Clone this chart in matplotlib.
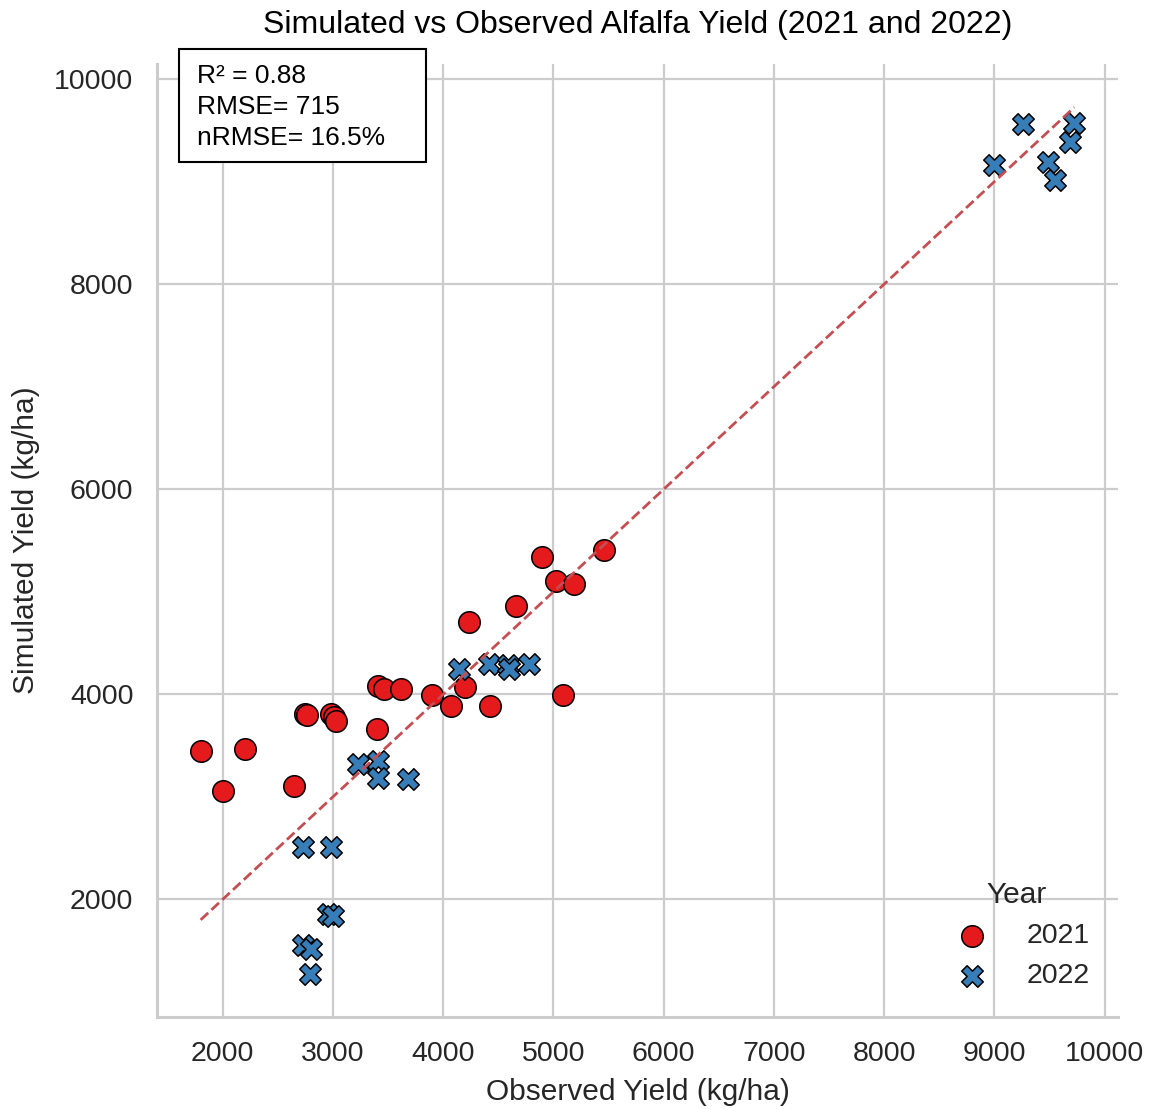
import matplotlib
matplotlib.use("Agg")
import matplotlib.pyplot as plt
from matplotlib.patches import Rectangle
from matplotlib.ticker import MultipleLocator
import seaborn as sns

# observed / simulated alfalfa yield, kg/ha
obs_2021 = [1800, 2203, 2000, 2651, 2745, 2765, 2981, 3011, 3026, 3398,
            3405, 3465, 3616, 3901, 4073, 4198, 4421, 5090, 4234, 4664,
            4894, 5027, 5190, 5457]
sim_2021 = [3448, 3464, 3056, 3105, 3807, 3800, 3807, 3774, 3742, 3663,
            4084, 4052, 4052, 3996, 3882, 4068, 3888, 3996, 4701, 4858,
            5341, 5106, 5080, 5406]

obs_2022 = [4146, 4418, 4585, 4600, 4781, 3223, 3411, 3411, 3677, 2724,
            2981, 2951, 2996, 2724, 2799, 2790, 8998, 9255, 9489, 9549,
            9685, 9725]
sim_2022 = [4248, 4297, 4290, 4248, 4297, 3323, 3350, 3180, 3170, 2507,
            2507, 1854, 1841, 1554, 1515, 1275, 9167, 9559, 9187, 9014,
            9383, 9569]

year_labels = ["2021", "2022"]
stats_lines = ["R\u00b2 = 0.88", "RMSE= 715", "nRMSE= 16.5%"]

sns.set_theme(style="whitegrid")
plt.rcParams["font.family"] = ["Liberation Sans", "DejaVu Sans"]

fig = plt.figure(figsize=(11.49, 11.09), dpi=100)
ax = fig.add_axes([157 / 1149, 92 / 1109, 961 / 1149, 953 / 1109])

ax.scatter(obs_2021, sim_2021, s=240, c="#e41a1c", marker="o",
           edgecolor="black", linewidth=1.1, label=year_labels[0], zorder=3)
ax.scatter(obs_2022, sim_2022, s=240, c="#377eb8", marker="X",
           edgecolor="black", linewidth=1.1, label=year_labels[1], zorder=3)

# 1:1 line over the observed range
lo = min(obs_2021 + obs_2022)
hi = max(obs_2021 + obs_2022)
ax.plot([lo, hi], [lo, hi], ls="--", color="#C44E52", lw=2, zorder=4)

ax.xaxis.set_major_locator(MultipleLocator(1000))
ax.yaxis.set_major_locator(MultipleLocator(2000))
ax.tick_params(axis="both", labelsize=20.5, length=0, pad=17, colors="0.15")
ax.grid(True, color="0.8", lw=1.6)
for side in ["top", "right"]:
    ax.spines[side].set_visible(False)
for side in ["left", "bottom"]:
    ax.spines[side].set_color("0.8")
    ax.spines[side].set_linewidth(2.2)

ax.set_xlabel("Observed Yield (kg/ha)", fontsize=21.5, color="0.15", labelpad=8)
ax.set_ylabel("Simulated Yield (kg/ha)", fontsize=21.5, color="0.15", labelpad=10)
ax.set_title("Simulated vs Observed Alfalfa Yield (2021 and 2022)",
             fontsize=23, color="black", pad=22)

# stats box
ax.add_patch(Rectangle((0.0229, 0.8972), 0.2570, 0.1185, transform=ax.transAxes,
                       facecolor="white", edgecolor="black", lw=1.5,
                       clip_on=False, zorder=5))
ax.text(0.0412, 1.0005, "\n".join(stats_lines), transform=ax.transAxes,
        fontsize=19, color="black", va="top", ha="left",
        linespacing=1.38, zorder=6)

leg = ax.legend(title="Year", loc="lower right", bbox_to_anchor=(0.997, 0.002),
                frameon=False, fontsize=20.5, title_fontsize=21.5,
                handletextpad=0.9, labelspacing=0.5)
leg._legend_box.sep = 10
for t in leg.get_texts():
    t.set_color("0.15")
leg.get_title().set_color("0.15")

fig.savefig("out.png", dpi=100)
